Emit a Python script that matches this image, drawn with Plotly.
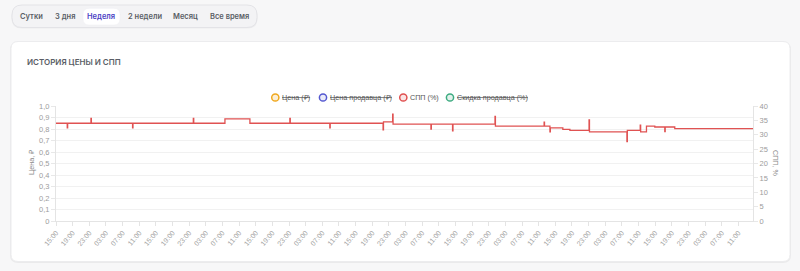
import plotly.graph_objects as go
import pandas as pd

# ---------------- data ----------------
start = pd.Timestamp("2025-03-03 15:00")
span_hours = 167.5

spp_hours = [0, 2.7, 2.8, 8.4, 8.5, 18.4, 18.5, 33.0, 33.1, 40.6, 46.6, 56.2, 56.3,
             65.8, 65.9, 78.6, 78.7, 80.9, 81.0, 90.1, 90.2, 95.3, 95.4, 105.5, 105.6,
             117.3, 117.4, 118.7, 118.8, 121.8, 123.5, 128.1, 128.2, 137.2, 137.3,
             140.4, 140.5, 141.9, 143.9, 146.3, 146.4, 148.7, 167.5]
spp_values = [34.0, 32.4, 34.0, 35.7, 34.0, 32.4, 34.0, 35.7, 34.0, 35.5, 34.0, 35.7, 34.0,
              32.4, 34.0, 31.7, 34.5, 37.2, 33.7, 32.0, 33.7, 31.4, 33.7, 36.4, 33.0,
              34.4, 33.0, 31.0, 32.4, 31.9, 31.5, 35.2, 31.0, 27.6, 31.5,
              33.3, 31.0, 33.0, 32.7, 31.1, 32.7, 32.1, 32.1]

left_ticks = [0, 0.1, 0.2, 0.3, 0.4, 0.5, 0.6, 0.7, 0.8, 0.9, 1.0]
left_tick_text = ["0", "0,1", "0,2", "0,3", "0,4", "0,5", "0,6", "0,7", "0,8", "0,9", "1,0"]
right_ticks = [0, 5, 10, 15, 20, 25, 30, 35, 40]

legend_names = ["Цена (₽)", "Цена продавца (₽)", "СПП (%)", "Скидка продавца (%)"]
legend_hidden = [True, True, False, True]
legend_colors = ["#f0a81e", "#5458d0", "#e05050", "#3dab80"]
legend_fills = ["rgba(240,168,30,0.18)", "rgba(84,88,208,0.12)", "rgba(224,80,80,0.15)", "rgba(61,171,128,0.15)"]

periods = ["Сутки", "3 дня", "Неделя", "2 недели", "Месяц", "Все время"]
active_period = "Неделя"

# ---------------- geometry helpers (layout only) ----------------
W, H = 800, 271
PL, PR, PT, PB = 56, 753, 106, 221


def px(x):
    return (x - PL) / (PR - PL)


def py(y):
    return (PB - y) / (PB - PT)


def rrect(x0, y0, x1, y1, r):
    pts = [
        f"M {px(x0 + r)} {py(y0)}",
        f"L {px(x1 - r)} {py(y0)}",
        f"Q {px(x1)} {py(y0)} {px(x1)} {py(y0 + r)}",
        f"L {px(x1)} {py(y1 - r)}",
        f"Q {px(x1)} {py(y1)} {px(x1 - r)} {py(y1)}",
        f"L {px(x0 + r)} {py(y1)}",
        f"Q {px(x0)} {py(y1)} {px(x0)} {py(y1 - r)}",
        f"L {px(x0)} {py(y0 + r)}",
        f"Q {px(x0)} {py(y0)} {px(x0 + r)} {py(y0)}",
        "Z",
    ]
    return " ".join(pts)


times = [start + pd.Timedelta(hours=h) for h in spp_hours]

fig = go.Figure()
fig.add_trace(go.Scatter(
    x=times, y=spp_values, yaxis="y2", mode="lines", line_shape="hv",
    line=dict(color="#e05252", width=1.3), showlegend=False, hoverinfo="skip",
))
# invisible trace to keep left axis active
fig.add_trace(go.Scatter(x=[times[0]], y=[None], yaxis="y", mode="lines", showlegend=False))

shapes = []
# card shadow + card
shapes.append(dict(type="path", xref="paper", yref="paper", layer="below",
                   path=rrect(10, 42, 791, 263, 8), fillcolor="rgba(0,0,0,0.05)", line=dict(width=0)))
shapes.append(dict(type="path", xref="paper", yref="paper", layer="below",
                   path=rrect(11, 41.5, 790, 261.5, 7), fillcolor="#ffffff",
                   line=dict(color="#ececee", width=1)))
# period selector pill
shapes.append(dict(type="path", xref="paper", yref="paper", layer="below",
                   path=rrect(11.5, 5.5, 257.5, 28.5, 10), fillcolor="rgba(0,0,0,0.04)", line=dict(width=0)))
shapes.append(dict(type="path", xref="paper", yref="paper", layer="below",
                   path=rrect(12, 5, 257, 27.5, 10), fillcolor="#f3f3f5",
                   line=dict(color="#e3e3e7", width=1)))
shapes.append(dict(type="path", xref="paper", yref="paper", layer="below",
                   path=rrect(83, 8.3, 120, 25, 6), fillcolor="#ffffff",
                   line=dict(color="#ececf0", width=0.5)))

annotations = []
btn_x = [31, 64.5, 101, 144.5, 185.5, 229]
for name, cx in zip(periods, btn_x):
    active = name == active_period
    annotations.append(dict(
        x=px(cx), y=py(16), xref="paper", yref="paper", text=name, showarrow=False,
        xanchor="center", yanchor="middle",
        font=dict(family="Inter, Noto Sans, sans-serif", size=7.5,
                  color="#4b3fc4" if active else "#5a5e66", weight=600),
    ))

annotations.append(dict(
    x=px(25), y=py(62), xref="paper", yref="paper", text="ИСТОРИЯ ЦЕНЫ И СПП",
    showarrow=False, xanchor="left", yanchor="middle",
    font=dict(family="Inter, Noto Sans, sans-serif", size=8, color="#5a5e66", weight=600),
))

# legend
circle_x = [275.3, 323, 403.3, 450]
ly = 97.5
for name, hidden, col, fill, cx in zip(legend_names, legend_hidden, legend_colors, legend_fills, circle_x):
    r = 3.6
    shapes.append(dict(type="circle", xref="paper", yref="paper",
                       x0=px(cx - r), x1=px(cx + r), y0=py(ly + r), y1=py(ly - r),
                       line=dict(color=col, width=1.5), fillcolor=fill))
    txt = f"<s>{name}</s>" if hidden else name
    annotations.append(dict(
        x=px(cx + 5), y=py(ly), xref="paper", yref="paper", text=txt, showarrow=False,
        xanchor="left", yanchor="middle",
        font=dict(family="Liberation Sans, Arial, sans-serif", size=7.2, color="#555555"),
    ))

annotations.append(dict(
    x=px(31), y=py(163), xref="paper", yref="paper", text="Цена, ₽", textangle=-90,
    showarrow=False, xanchor="center", yanchor="middle",
    font=dict(family="Liberation Sans, Arial, sans-serif", size=7.2, color="#8a8a8a"),
))
annotations.append(dict(
    x=px(776), y=py(163), xref="paper", yref="paper", text="СПП, %", textangle=90,
    showarrow=False, xanchor="center", yanchor="middle",
    font=dict(family="Liberation Sans, Arial, sans-serif", size=7.2, color="#8a8a8a"),
))

tickfont = dict(family="Liberation Sans, Arial, sans-serif", size=7, color="#a2a2a2")

fig.update_layout(
    width=W, height=H,
    margin=dict(l=PL, r=W - PR, t=PT, b=H - PB, pad=0),
    paper_bgcolor="#f7f7f8", plot_bgcolor="rgba(0,0,0,0)",
    showlegend=False,
    shapes=shapes, annotations=annotations,
    xaxis=dict(
        type="date", range=[start, start + pd.Timedelta(hours=span_hours)],
        tick0=start, dtick=4 * 3600 * 1000, tickformat="%H:%M", tickangle=-50,
        tickfont=tickfont, showgrid=False, zeroline=False,
        showline=True, linecolor="#e4e4e4", linewidth=1,
        ticks="outside", ticklen=4, tickcolor="#e4e4e4",
    ),
    yaxis=dict(
        range=[0, 1], tickvals=left_ticks, ticktext=left_tick_text,
        tickfont=dict(family="Liberation Sans, Arial, sans-serif", size=7.5, color="#9c9c9c"),
        showgrid=True, gridcolor="#f1f1f1", gridwidth=1, zeroline=False,
        showline=True, linecolor="#e4e4e4", ticks="outside", ticklen=4, tickcolor="#e8e8e8",
    ),
    yaxis2=dict(
        range=[0, 40], tickvals=right_ticks, overlaying="y", side="right",
        tickfont=dict(family="Liberation Sans, Arial, sans-serif", size=7.5, color="#9c9c9c"),
        showgrid=False, zeroline=False,
        showline=True, linecolor="#e4e4e4", ticks="outside", ticklen=4, tickcolor="#e8e8e8",
    ),
)

fig.write_html("out.html")
